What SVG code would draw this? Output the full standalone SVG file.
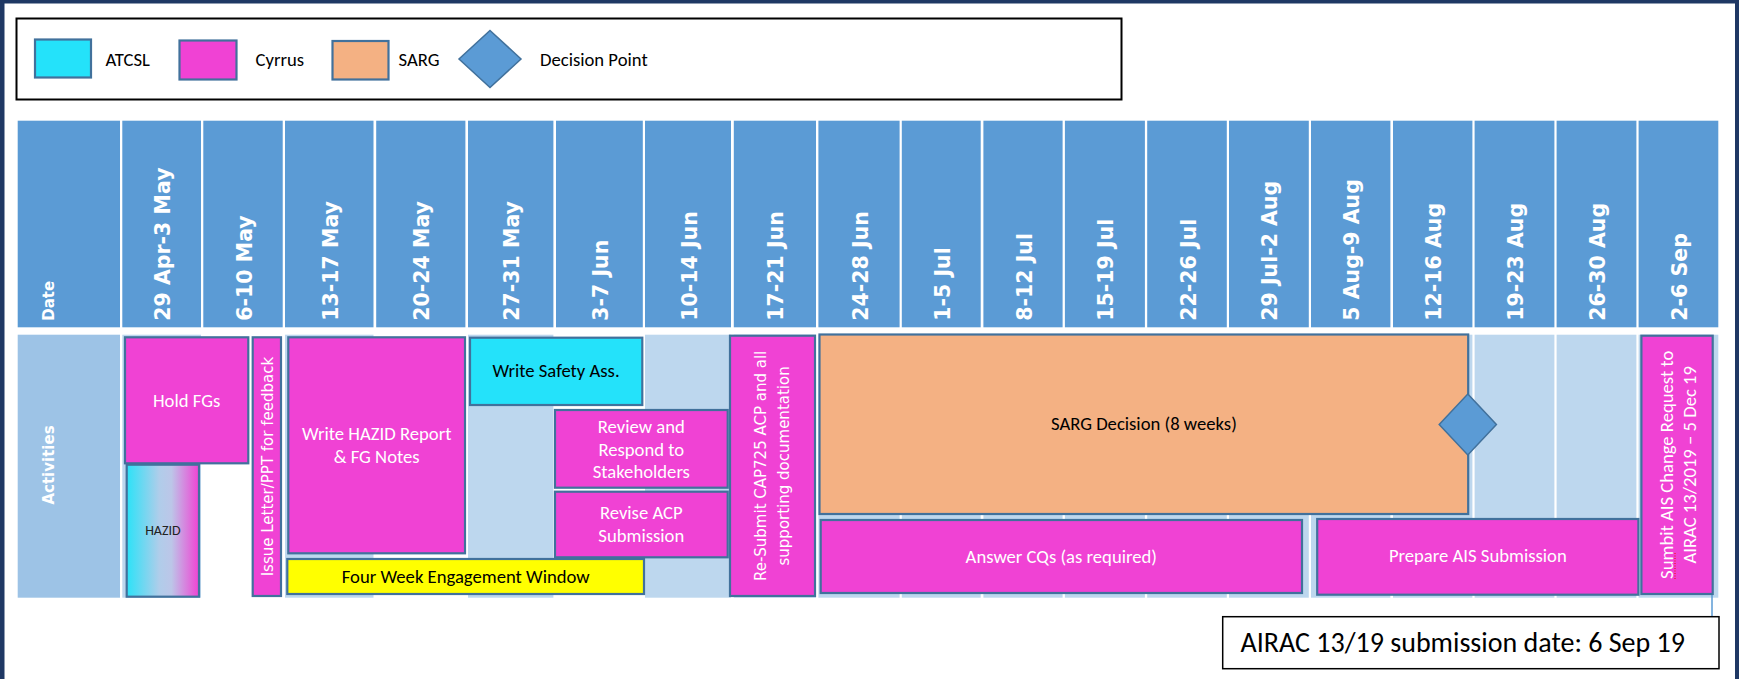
<svg xmlns="http://www.w3.org/2000/svg" width="1739" height="679" viewBox="0 0 1739 679">
<defs>
<style>
.hdr{fill:#5B9BD5}
.lt{fill:#BDD7EE}
.box{stroke:#41719C;stroke-width:2.2}
.cy{fill:#F042D4}
.at{fill:#24E2FA}
.sg{fill:#F4B183}
.yl{fill:#FFFF00}
.ht{font-family:"DejaVu Sans",Verdana,sans-serif;font-weight:bold;font-size:20.5px;fill:#FFFFFF}
.hs{font-family:"DejaVu Sans",Verdana,sans-serif;font-weight:bold;font-size:15px;fill:#FFFFFF}
.cw{font-family:Carlito,Lato,"Liberation Sans",sans-serif;font-size:18.67px;fill:#FFFFFF;text-anchor:middle}
.cb{font-family:Carlito,Lato,"Liberation Sans",sans-serif;font-size:18.67px;fill:#000000;text-anchor:middle}
.lg{font-family:Carlito,Lato,"Liberation Sans",sans-serif;font-size:18.67px;fill:#000000}
.vw{font-family:"DejaVu Sans",Verdana,sans-serif;font-size:15px;fill:#FFFFFF;text-anchor:middle}
</style>
<linearGradient id="hz" x1="0" y1="0" x2="1" y2="0">
<stop offset="0" stop-color="#2BE2F8"/>
<stop offset="0.45" stop-color="#B0CDEA"/>
<stop offset="0.62" stop-color="#BCC6E8"/>
<stop offset="1" stop-color="#F042D4"/>
</linearGradient>
</defs>
<rect x="0" y="0" width="1739" height="679" fill="#FFFFFF"/>
<rect x="0" y="0" width="1739" height="3.5" fill="#1F3864"/>
<rect x="0" y="0" width="4.5" height="679" fill="#1F3864"/>
<rect x="1735" y="0" width="4" height="679" fill="#1F3864"/>

<g id="legend">
<rect x="16.5" y="18.5" width="1105" height="81" fill="#FFFFFF" stroke="#000000" stroke-width="2"/>
<rect class="box at" x="35" y="39.5" width="56" height="38"/>
<text class="lg" x="105.5" y="66">ATCSL</text>
<rect class="box cy" x="179.5" y="40.5" width="57" height="39"/>
<text class="lg" x="255.5" y="66">Cyrrus</text>
<rect class="box sg" x="332.5" y="41" width="56" height="38.5"/>
<text class="lg" x="398.5" y="66">SARG</text>
<polygon points="490,30.5 521,59 490,87.5 459,59" fill="#5B9BD5" stroke="#41719C" stroke-width="1.5"/>
<text class="lg" x="540" y="66">Decision Point</text>
</g>

<g id="header-row">
<rect class="hdr" x="17.7" y="120.7" width="102.3" height="206.6"/>
<rect class="hdr" x="122.3" y="120.7" width="78.7" height="206.6"/>
<rect class="hdr" x="203.3" y="120.7" width="79.4" height="206.6"/>
<rect class="hdr" x="285" y="120.7" width="88.5" height="206.6"/>
<rect class="hdr" x="376.2" y="120.7" width="89.2" height="206.6"/>
<rect class="hdr" x="468" y="120.7" width="85.4" height="206.6"/>
<rect class="hdr" x="556" y="120.7" width="86.8" height="206.6"/>
<rect class="hdr" x="645" y="120.7" width="86" height="206.6"/>
<rect class="hdr" x="733.8" y="120.7" width="82.2" height="206.6"/>
<rect class="hdr" x="818.4" y="120.7" width="81.2" height="206.6"/>
<rect class="hdr" x="901.8" y="120.7" width="78.9" height="206.6"/>
<rect class="hdr" x="983.4" y="120.7" width="79.2" height="206.6"/>
<rect class="hdr" x="1064.9" y="120.7" width="80" height="206.6"/>
<rect class="hdr" x="1147.2" y="120.7" width="79.6" height="206.6"/>
<rect class="hdr" x="1229" y="120.7" width="79.8" height="206.6"/>
<rect class="hdr" x="1311" y="120.7" width="79.4" height="206.6"/>
<rect class="hdr" x="1393" y="120.7" width="79.4" height="206.6"/>
<rect class="hdr" x="1474.6" y="120.7" width="79.8" height="206.6"/>
<rect class="hdr" x="1556.6" y="120.7" width="79.8" height="206.6"/>
<rect class="hdr" x="1638.6" y="120.7" width="79.7" height="206.6"/>
<text class="hs" transform="translate(54,320.7) rotate(-90)">Date</text>
<text class="ht" transform="translate(170.2,320.7) rotate(-90)">29 Apr-3 May</text>
<text class="ht" transform="translate(251.5,320.7) rotate(-90)">6-10 May</text>
<text class="ht" transform="translate(337.8,320.7) rotate(-90)">13-17 May</text>
<text class="ht" transform="translate(429.3,320.7) rotate(-90)">20-24 May</text>
<text class="ht" transform="translate(519.2,320.7) rotate(-90)">27-31 May</text>
<text class="ht" transform="translate(607.9,320.7) rotate(-90)">3-7 Jun</text>
<text class="ht" transform="translate(696.5,320.7) rotate(-90)">10-14 Jun</text>
<text class="ht" transform="translate(783.4,320.7) rotate(-90)">17-21 Jun</text>
<text class="ht" transform="translate(867.5,320.7) rotate(-90)">24-28 Jun</text>
<text class="ht" transform="translate(949.7,320.7) rotate(-90)">1-5 Jul</text>
<text class="ht" transform="translate(1031.5,320.7) rotate(-90)">8-12 Jul</text>
<text class="ht" transform="translate(1113.4,320.7) rotate(-90)">15-19 Jul</text>
<text class="ht" transform="translate(1195.5,320.7) rotate(-90)">22-26 Jul</text>
<text class="ht" transform="translate(1277.4,320.7) rotate(-90)">29 Jul-2 Aug</text>
<text class="ht" transform="translate(1359.2,320.7) rotate(-90)">5 Aug-9 Aug</text>
<text class="ht" transform="translate(1441.2,320.7) rotate(-90)">12-16 Aug</text>
<text class="ht" transform="translate(1523,320.7) rotate(-90)">19-23 Aug</text>
<text class="ht" transform="translate(1605,320.7) rotate(-90)">26-30 Aug</text>
<text class="ht" transform="translate(1687,320.7) rotate(-90)">2-6 Sep</text>
</g>

<g id="activity-row">
<rect x="17.7" y="334.7" width="102.3" height="263" fill="#9DC3E6"/>
<rect class="lt" x="122.3" y="334.7" width="78.7" height="263"/>
<rect class="lt" x="285" y="334.7" width="88.5" height="263"/>
<rect class="lt" x="468" y="334.7" width="85.4" height="263"/>
<rect class="lt" x="645" y="334.7" width="86" height="263"/>
<rect class="lt" x="733.8" y="334.7" width="82.2" height="263"/>
<rect class="lt" x="818.4" y="334.7" width="81.2" height="263"/>
<rect class="lt" x="901.8" y="334.7" width="78.9" height="263"/>
<rect class="lt" x="983.4" y="334.7" width="79.2" height="263"/>
<rect class="lt" x="1064.9" y="334.7" width="80" height="263"/>
<rect class="lt" x="1147.2" y="334.7" width="79.6" height="263"/>
<rect class="lt" x="1229" y="334.7" width="79.8" height="263"/>
<rect class="lt" x="1311" y="334.7" width="79.4" height="263"/>
<rect class="lt" x="1393" y="334.7" width="79.4" height="263"/>
<rect class="lt" x="1474.6" y="334.7" width="79.8" height="263"/>
<rect class="lt" x="1556.6" y="334.7" width="79.8" height="263"/>
<rect class="lt" x="1638.6" y="334.7" width="79.7" height="263"/>
<text class="hs" text-anchor="middle" transform="translate(54,465) rotate(-90)">Activities</text>
</g>

<g id="connectors">
<line x1="1712" y1="594" x2="1712" y2="617" stroke="#5B9BD5" stroke-width="1.5"/>
</g>

<g id="hold-fgs">
<rect class="box cy" x="125" y="337.3" width="123.3" height="126"/>
<text class="cw" x="186.6" y="407.3">Hold FGs</text>
</g>
<g id="hazid">
<rect class="box" fill="url(#hz)" x="126.7" y="464.7" width="72.3" height="132"/>
<text x="162.9" y="535" font-family="Carlito,Lato,'Liberation Sans',sans-serif" font-size="14px" fill="#222222" text-anchor="middle">HAZID</text>
</g>
<g id="issue-letter">
<rect class="box cy" x="252.7" y="337.3" width="28.3" height="258.7"/>
<text class="vw" transform="translate(272.5,466.6) rotate(-90)">Issue Letter/PPT for feedback</text>
</g>
<g id="write-hazid">
<rect class="box cy" x="288.3" y="337.3" width="176.7" height="216"/>
<text class="cw" x="376.7" y="440">Write HAZID Report</text>
<text class="cw" x="376.7" y="462.7">&amp; FG Notes</text>
</g>
<g id="engagement-window">
<rect class="box yl" x="287.3" y="559" width="356.7" height="35"/>
<text class="cb" x="465.7" y="583.3">Four Week Engagement Window</text>
</g>
<g id="write-safety">
<rect class="box at" x="470" y="337.7" width="172.3" height="67.3"/>
<text class="cb" x="556" y="377.3">Write Safety Ass.</text>
</g>
<g id="review-respond">
<rect class="box cy" x="555" y="410" width="172.7" height="77.7"/>
<text class="cw" x="641.3" y="432.7">Review and</text>
<text class="cw" x="641.3" y="455.7">Respond to</text>
<text class="cw" x="641.3" y="478.3">Stakeholders</text>
</g>
<g id="revise-acp">
<rect class="box cy" x="555" y="491.7" width="172.7" height="65.6"/>
<text class="cw" x="641.3" y="519">Revise ACP</text>
<text class="cw" x="641.3" y="541.7">Submission</text>
</g>
<g id="resubmit">
<rect class="box cy" x="730" y="335.7" width="85" height="260.3"/>
<text class="vw" transform="translate(766,465.9) rotate(-90)">Re-Submit CAP725 ACP and all</text>
<text class="vw" transform="translate(789,465.9) rotate(-90)">supporting documentation</text>
</g>
<g id="sarg-decision">
<rect class="box sg" x="819.5" y="334.5" width="648.7" height="179.5"/>
<text class="cb" x="1143.9" y="430">SARG Decision (8 weeks)</text>
</g>
<g id="decision-point">
<polygon points="1467.8,394 1496.4,424.5 1467.8,455 1439.2,424.5" fill="#5B9BD5" stroke="#41719C" stroke-width="1.5"/>
</g>
<g id="answer-cqs">
<rect class="box cy" x="820.7" y="520" width="481.3" height="73"/>
<text class="cw" x="1061.3" y="562.7">Answer CQs (as required)</text>
</g>
<g id="prepare-ais">
<rect class="box cy" x="1317.2" y="519" width="321.2" height="75.7"/>
<text class="cw" x="1477.8" y="562.3">Prepare AIS Submission</text>
</g>
<g id="submit-ais">
<rect class="box cy" x="1641.4" y="335.7" width="71.3" height="258.3"/>
<text class="cw" transform="translate(1673,464.8) rotate(-90)">Sumbit AIS Change Request to</text>
<text class="cw" transform="translate(1696,464.8) rotate(-90)">AIRAC 13/2019 – 5 Dec 19</text>
<line x1="1675" y1="553" x2="1675" y2="580" stroke="#FF0000" stroke-width="1" stroke-dasharray="1,1.5"/>
</g>
<g id="airac-note">
<rect x="1222.7" y="616.7" width="496.3" height="52" fill="#FFFFFF" stroke="#000000" stroke-width="1.5"/>
<text x="1240.6" y="651.7" font-family="Carlito,Lato,'Liberation Sans',sans-serif" font-size="28px" fill="#000000">AIRAC 13/19 submission date: 6 Sep 19</text>
</g>
</svg>
